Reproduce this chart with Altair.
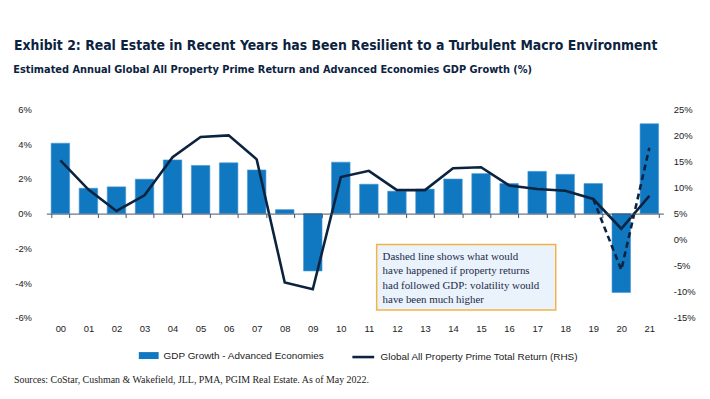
import altair as alt
import pandas as pd

# ---------------- data ----------------
YEARS = ["00", "01", "02", "03", "04", "05", "06", "07", "08", "09", "10",
         "11", "12", "13", "14", "15", "16", "17", "18", "19", "20", "21"]
GDP = [4.05, 1.46, 1.54, 1.98, 3.09, 2.77, 2.92, 2.51, 0.23, -3.30, 2.96,
       1.69, 1.29, 1.41, 1.99, 2.30, 1.73, 2.43, 2.26, 1.73, -4.54, 5.17]
RET = [15.2, 9.6, 5.5, 8.5, 15.8, 19.7, 20.0, 15.4, -8.2, -9.5, 12.0,
       13.2, 9.5, 9.5, 13.7, 13.9, 10.4, 9.7, 9.4, 7.8, 2.1, 8.4]
HYP_YEARS = ["19", "20", "21"]
HYP = [7.8, -5.8, 17.6]

LEFT_TICKS = [-6, -4, -2, 0, 2, 4, 6]
RIGHT_TICKS = [-15, -10, -5, 0, 5, 10, 15, 20, 25]

GDP_LABEL = "GDP Growth - Advanced Economies"
RET_LABEL = "Global All Property Prime Total Return (RHS)"
TITLE = "Exhibit 2: Real Estate in Recent Years has Been Resilient to a Turbulent Macro Environment"
SUBTITLE = "Estimated Annual Global All Property Prime Return and Advanced Economies GDP Growth (%)"
SOURCE = "Sources: CoStar, Cushman & Wakefield, JLL, PMA, PGIM Real Estate. As of May 2022."
NOTE_LINES = ["Dashed line shows what would",
              "have happened if property returns",
              "had followed GDP: volatility would",
              "have been much higher"]

BAR_COLOR = "#0f78c1"
NAVY = "#0c2340"
AXIS_COLOR = "#44546a"
SANS = "Liberation Sans, Arial, sans-serif"
NARROW = "DejaVu Sans Condensed, Liberation Sans Narrow, sans-serif"
SERIF = "Liberation Serif, Times New Roman, serif"

df = pd.DataFrame({"year": YEARS, "gdp": GDP, "ret": RET,
                   "s1": GDP_LABEL, "s2": RET_LABEL})
dfh = pd.DataFrame({"year": HYP_YEARS, "hyp": HYP})
one = pd.DataFrame({"k": [0]})

W, H = 622.6, 210.5

x_axis = alt.Axis(title=None, orient="bottom", offset=-H / 2, domain=True,
                  domainColor=AXIS_COLOR, domainWidth=1, ticks=True,
                  tickBand="extent", tickSize=4, tickColor=AXIS_COLOR,
                  labelAngle=0, labelPadding=107, labelFontSize=9.5,
                  labelColor="#222222", labelFont=SANS, grid=False, zindex=1)
x_enc = alt.X("year:O", sort=YEARS, axis=x_axis,
              scale=alt.Scale(domain=YEARS, paddingInner=0.34, paddingOuter=0.17))

bars = alt.Chart(df).mark_bar(stroke="#4a98d6", strokeWidth=0.6).encode(
    x=x_enc,
    y=alt.Y("gdp:Q", scale=alt.Scale(domain=[-6, 6], nice=False, zero=False),
            axis=alt.Axis(title=None, values=LEFT_TICKS, labelExpr="datum.value + '%'",
                          grid=False, domain=False, ticks=False, tickSize=0,
                          labelPadding=15, labelFontSize=9.5, labelColor="#222222",
                          labelFont=SANS, orient="left")),
    color=alt.Color("s1:N", scale=alt.Scale(domain=[GDP_LABEL], range=[BAR_COLOR]),
                    legend=alt.Legend(title=None, orient="none", legendX=93.3, legendY=238.5,
                                      symbolType="M-1,-0.35H1V0.35H-1Z", symbolSize=400,
                                      symbolStrokeWidth=0, labelFontSize=10, labelFont=SANS,
                                      labelColor="#1a1a1a", labelOffset=5, padding=0,
                                      labelLimit=0)),
)

box = alt.Chart(one).mark_rect(fill="#eaf2fb", stroke="#f0b54a", strokeWidth=1.5).encode(
    x=alt.value(333.3), x2=alt.value(514), y=alt.value(136.5), y2=alt.value(202.5))
note = alt.Chart(one).mark_text(text=NOTE_LINES, align="left", baseline="alphabetic",
                                 font=SERIF, fontSize=11, lineHeight=14.6,
                                 color="#1b2a4a").encode(x=alt.value(339.3), y=alt.value(152))
title = alt.Chart(one).mark_text(text=TITLE, align="left", baseline="alphabetic",
                                  font=NARROW, fontSize=14.0, fontWeight="bold",
                                  color=NAVY).encode(x=alt.value(-32.7), y=alt.value(-60.3))
subtitle = alt.Chart(one).mark_text(text=SUBTITLE, align="left", baseline="alphabetic",
                                     font=NARROW, fontSize=11.0, fontWeight="bold",
                                     color=NAVY).encode(x=alt.value(-33.4), y=alt.value(-36.5))
source = alt.Chart(one).mark_text(text=SOURCE, align="left", baseline="alphabetic",
                                   font=SERIF, fontSize=10, color="#222222").encode(
    x=alt.value(-32.7), y=alt.value(275.8))

left = alt.layer(bars, box, note, title, subtitle, source)

right_y = alt.Axis(title=None, values=RIGHT_TICKS, labelExpr="datum.value + '%'",
                   grid=False, domain=False, ticks=False, tickSize=0, labelPadding=10,
                   labelFontSize=9.5, labelColor="#222222", labelFont=SANS, orient="right")
right_scale = alt.Scale(domain=[-15, 25], nice=False, zero=False)

line = alt.Chart(df).mark_line(strokeWidth=2.6, strokeJoin="miter").encode(
    x=x_enc,
    y=alt.Y("ret:Q", scale=right_scale, axis=right_y),
    stroke=alt.Stroke("s2:N", scale=alt.Scale(domain=[RET_LABEL], range=[NAVY]),
                      legend=alt.Legend(title=None, orient="none", legendX=307.3, legendY=237.5,
                                        symbolType="stroke", symbolSize=484,
                                        symbolStrokeWidth=2.6, labelFontSize=10, labelFont=SANS,
                                        labelColor="#1a1a1a", labelOffset=5, padding=0,
                                        labelLimit=0)),
)
dashed = alt.Chart(dfh).mark_line(color=NAVY, strokeWidth=2.6, strokeDash=[6, 4]).encode(
    x=x_enc,
    y=alt.Y("hyp:Q", scale=right_scale, axis=right_y),
)
right = alt.layer(line, dashed)

chart = alt.layer(left, right).resolve_scale(y="independent", color="independent").properties(
    width=W, height=H,
    padding={"left": 38.7, "top": 100.5, "right": 39, "bottom": 67.5},
    autosize=alt.AutoSizeParams(type="none"),
    background="white",
).configure_view(stroke=None)

chart.save("out.html", embed_options={"renderer": "svg", "actions": False})
